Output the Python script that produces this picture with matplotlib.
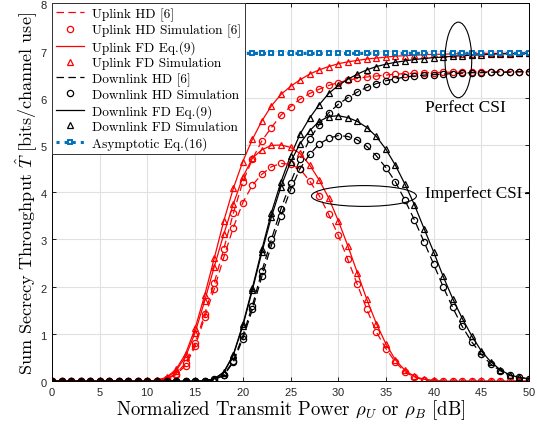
import matplotlib
matplotlib.use("Agg")
import matplotlib.pyplot as plt
from matplotlib.patches import Ellipse
import numpy as np

plt.rcParams['mathtext.fontset'] = 'cm'
plt.rcParams['axes.formatter.use_mathtext'] = True

# potencia normalizada en dB
rho = list(range(51))

z11 = [0] * 11
z17 = [0] * 17

# uplink, CSI perfecta
ul_fd_perf = z11 + [0.02, 0.08, 0.25, 0.58, 1.12, 1.82, 2.6, 3.39, 4.08, 4.65, 5.12, 5.51, 5.83, 6.07,
                    6.24, 6.38, 6.5, 6.59, 6.66, 6.72, 6.76, 6.79, 6.82, 6.84, 6.86, 6.88, 6.89, 6.9,
                    6.91, 6.92, 6.92, 6.93, 6.93, 6.93, 6.94, 6.94, 6.94, 6.94, 6.94, 6.94]
ul_hd_perf = z11 + [0.01, 0.05, 0.16, 0.38, 0.8, 1.42, 2.08, 2.8, 3.55, 4.22, 4.7, 5.09, 5.37, 5.63,
                    5.81, 5.97, 6.09, 6.18, 6.26, 6.32, 6.37, 6.41, 6.44, 6.46, 6.48, 6.5, 6.51, 6.52,
                    6.53, 6.53, 6.54, 6.54, 6.54, 6.54, 6.55, 6.55, 6.55, 6.55, 6.55, 6.55]
# uplink, CSI imperfecta
ul_fd_imp = z11 + [0.02, 0.07, 0.22, 0.52, 1.03, 1.7, 2.42, 3.11, 3.75, 4.32, 4.72, 4.9, 4.99, 5.0,
                   4.95, 4.82, 4.58, 4.26, 3.88, 3.4, 2.87, 2.3, 1.73, 1.22, 0.79, 0.45, 0.23, 0.1,
                   0.04, 0.015, 0, 0, 0, 0, 0, 0, 0, 0, 0, 0]
ul_hd_imp = z11 + [0.01, 0.04, 0.14, 0.33, 0.74, 1.35, 1.95, 2.62, 3.25, 3.78, 4.15, 4.38, 4.54, 4.61,
                   4.59, 4.49, 4.24, 3.93, 3.53, 3.09, 2.58, 2.05, 1.52, 1.04, 0.69, 0.4, 0.2, 0.08,
                   0.03, 0.01, 0, 0, 0, 0, 0, 0, 0, 0, 0, 0]
# downlink, CSI perfecta
dl_fd_perf = z17 + [0.05, 0.19, 0.56, 1.2, 1.97, 2.79, 3.57, 4.22, 4.77, 5.23, 5.57, 5.85, 6.09, 6.26,
                    6.39, 6.5, 6.59, 6.66, 6.71, 6.75, 6.78, 6.81, 6.83, 6.85, 6.86, 6.88, 6.89, 6.9,
                    6.91, 6.92, 6.93, 6.93, 6.94, 6.94]
dl_hd_perf = z17 + [0.04, 0.13, 0.43, 0.96, 1.6, 2.33, 3.0, 3.65, 4.2, 4.7, 5.12, 5.43, 5.68, 5.86,
                    6.0, 6.12, 6.22, 6.3, 6.36, 6.4, 6.44, 6.46, 6.48, 6.49, 6.5, 6.51, 6.52, 6.53,
                    6.53, 6.54, 6.54, 6.54, 6.55, 6.55]
# downlink, CSI imperfecta
dl_fd_imp = z17 + [0.05, 0.18, 0.55, 1.17, 1.93, 2.73, 3.48, 4.12, 4.64, 5.03, 5.3, 5.5, 5.6, 5.62,
                   5.58, 5.5, 5.37, 5.18, 4.91, 4.57, 4.17, 3.73, 3.23, 2.74, 2.22, 1.75, 1.33, 0.96,
                   0.64, 0.41, 0.24, 0.13, 0.08, 0.05]
dl_hd_imp = z17 + [0.03, 0.12, 0.4, 0.9, 1.52, 2.22, 2.88, 3.5, 4.05, 4.5, 4.8, 5.02, 5.14, 5.2,
                   5.18, 5.11, 4.97, 4.77, 4.52, 4.22, 3.83, 3.41, 2.95, 2.48, 2.0, 1.56, 1.16, 0.83,
                   0.57, 0.36, 0.22, 0.12, 0.08, 0.05]
# asintota
asym = [6.94] * 51

fig = plt.figure(figsize=(5.37, 4.27), dpi=100)
ax = fig.add_axes([0.097, 0.105, 0.888, 0.885])

ms = 4.5
lw = 0.9
dash = (0, (6, 3.5))
red = '#ff0000'

# curvas (perfecta e imperfecta con el mismo estilo)
ax.plot(rho, ul_hd_perf, color=red, ls=dash, lw=lw, label='Uplink HD [6]')
ax.plot(rho, ul_hd_perf, 'o', color=red, mfc='none', ms=ms, mew=0.9, label='Uplink HD Simulation [6]')
ax.plot(rho, ul_fd_perf, color=red, lw=lw, label='Uplink FD Eq.(9)')
ax.plot(rho, ul_fd_perf, '^', color=red, mfc='none', ms=ms, mew=0.9, label='Uplink FD Simulation')
ax.plot(rho, dl_hd_perf, color='k', ls=dash, lw=lw, label='Downlink HD [6]')
ax.plot(rho, dl_hd_perf, 'o', color='k', mfc='none', ms=ms, mew=0.9, label='Downlink HD Simulation')
ax.plot(rho, dl_fd_perf, color='k', lw=lw, label='Downlink FD Eq.(9)')
ax.plot(rho, dl_fd_perf, '^', color='k', mfc='none', ms=ms, mew=0.9, label='Downlink FD Simulation')
ax.plot(rho, asym, color='#0072BD', ls=':', lw=2.2, marker='s', ms=3.3, mfc='white', mew=1.4,
        label='Asymptotic Eq.(16)')

ax.plot(rho, ul_hd_imp, color=red, ls=dash, lw=lw)
ax.plot(rho, ul_hd_imp, 'o', color=red, mfc='none', ms=ms, mew=0.9)
ax.plot(rho, ul_fd_imp, color=red, lw=lw)
ax.plot(rho, ul_fd_imp, '^', color=red, mfc='none', ms=ms, mew=0.9)
ax.plot(rho, dl_hd_imp, color='k', ls=dash, lw=lw)
ax.plot(rho, dl_hd_imp, 'o', color='k', mfc='none', ms=ms, mew=0.9)
ax.plot(rho, dl_fd_imp, color='k', lw=lw)
ax.plot(rho, dl_fd_imp, '^', color='k', mfc='none', ms=ms, mew=0.9)

# anotaciones
ax.add_patch(Ellipse((42.6, 6.8), 2.8, 1.6, fill=False, ec='k', lw=0.8, zorder=5))
ax.text(39.1, 5.8, 'Perfect CSI', family='Liberation Serif', fontsize=12.5, va='center')
ax.add_patch(Ellipse((32.7, 3.92), 11.0, 0.44, fill=False, ec='k', lw=0.8, zorder=5))
ax.text(39.1, 3.98, 'Imperfect CSI', family='Liberation Serif', fontsize=12.3, va='center')
ax.plot([49.6, 50], [3.98, 3.98], color='k', lw=0.8)

ax.set_xlim(0, 50)
ax.set_ylim(0, 8)
ax.set_xticks(range(0, 51, 5))
ax.set_yticks(range(0, 9))
ax.grid(True, color='#e0e0e0', lw=0.8)
ax.set_axisbelow(True)
ax.tick_params(direction='in', top=True, right=True, length=3, width=0.6, labelsize=8,
               labelcolor='#262626', pad=3)
for lab in ax.get_xticklabels() + ax.get_yticklabels():
    lab.set_family('Liberation Sans')
for s in ax.spines.values():
    s.set_linewidth(0.7)

ax.set_xlabel(r'Normalized Transmit Power $\rho_U$ or $\rho_B$ [dB]', family='cmr10', fontsize=13.5, labelpad=0)
ax.set_ylabel(r'Sum Secrecy Throughput $\hat{T}$ [bits/channel use]', family='cmr10', fontsize=13, labelpad=1)

leg = ax.legend(loc='upper left', borderaxespad=0, fancybox=False, framealpha=1, edgecolor='#333333',
                prop={'family': 'cmr10', 'size': 9.6}, handlelength=2.1, handletextpad=0.6,
                labelspacing=0.22, borderpad=0.3)
leg.get_frame().set_linewidth(0.7)

fig.savefig('out.png', dpi=100)
